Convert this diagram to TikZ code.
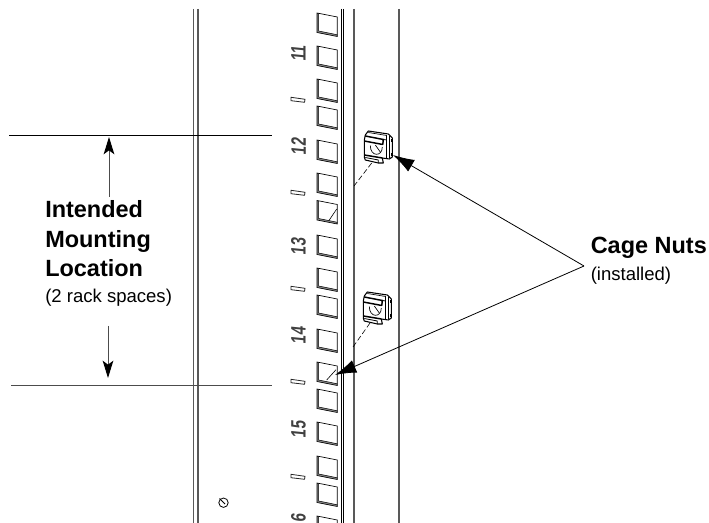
\documentclass[tikz,border=0pt]{standalone}
\usepackage{fontspec}
\setmainfont{Liberation Sans}
\usetikzlibrary{arrows.meta}
\tikzset{
 px/.style={x=0.75pt,y=-0.75pt},
 rail/.style={draw=black!65,line width=0.8pt},
 hline/.style={draw=black,line width=0.6pt},
 leader/.style={draw=black,line width=0.6pt,-{Latex[length=16pt,width=10pt]}},
 dimarrow/.style={draw=black!70,line width=0.7pt,-{Stealth[length=13pt,width=8pt,inset=3pt,color=black]}},
 lbl/.style={font=\fontsize{17.6}{22}\selectfont\bfseries,align=left,inner sep=0pt,anchor=base west},
 sub/.style={font=\fontsize{13.9}{16}\selectfont,inner sep=0pt,anchor=base west},
 num/.style={font=\fontsize{15.6}{18}\selectfont\bfseries,rotate=90,xslant=0.1,xscale=.73,inner sep=0pt,text=black!75},
 thin line/.style={draw=black,line width=0.45pt},
 leaddash/.style={draw=black,line width=0.45pt,dash pattern=on 4pt off 2pt},
}
\newcommand{\hole}[1]{%
 \begin{scope}[shift={(317,#1)}]
  \fill[white] (0,0)--(20.3,4)--(20.3,23.5)--(0,19.5)--cycle;
  \fill[black!45] (0,0)--(1.6,0.3)--(1.6,18)--(20.3,21.8)--(20.3,23.5)--(0,19.5)--cycle;
  \draw[black,line width=0.5pt] (0,0)--(20.3,4)--(20.3,23.5)--(0,19.5)--cycle;
  \draw[black,line width=0.4pt] (1.6,0.3)--(1.6,18)--(20.3,21.8);
 \end{scope}}
\newcommand{\nut}[2]{%
 \begin{scope}[shift={(#1,#2)}]
  \filldraw[fill=white,draw=black,line width=0.8pt,line join=round] (2,5)--(5,1)--(25,4)--(29,8)--(29,27)--(26,29)--(19,28)--(20,33)--(15,33)--(2,30)--(1,27)--(1,10)--cycle;
  \draw[black,line width=0.5pt] (23.5,5.5)--(23.5,28.5);
  \draw[black,line width=0.5pt] (26.5,6)--(26.5,28);
  \draw[black,line width=0.5pt] (7,15.5) .. controls (7,27) and (19,27) .. (19,17);
  \draw[black,line width=0.5pt] (12,15)--(17,22);
  \draw[black,line width=0.5pt] (5,2.5)--(23.5,5.5);
  \draw[black,line width=1.1pt] (2,6)--(20,9.5)--(19.5,14.5);
  \draw[black,line width=1.1pt] (1,11)--(19.5,14.5);
  \draw[black,line width=0.6pt] (20,9.5)--(23.5,10);
  \draw[black,line width=1.1pt] (1,25)--(19,28);
  \draw[black,line width=0.6pt] (2,27.5)--(15,30)--(15,33);
  \fill[black] (27.3,9) rectangle +(1.9,3.5);
  \fill[black] (27.3,23) rectangle +(1.9,3.5);
 \end{scope}}
\begin{document}
\begin{tikzpicture}[px]
\useasboundingbox (0,0) rectangle (709,523);
\clip (0,0) rectangle (709,523);
% rails
\foreach \x in {193.5,198,354,399} \draw[rail] (\x,9)--(\x,523);
\draw[rail,draw=black,line width=0.7pt] (341.2,9)--(341.2,523);
\draw[rail,draw=black,line width=0.7pt] (343.2,9)--(343.2,523);
% holes
\foreach \y in {13,46,79,106,140,173,200.5,235,268,295,329,362,389,422,456,483,516} {\hole{\y}}
% hole dashes
\coordinate (d1a) at (329,220.5); \coordinate (d1b) at (336.7,209);
\draw[thin line] (d1a)--(d1b);
\coordinate (d2a) at (326.7,380); \coordinate (d2b) at (336,369.7);
\draw[thin line] (d2a)--(d2b);
% nuts
\nut{363.3}{130}
\nut{362.3}{291}
\coordinate (n1) at (371.7,163); \coordinate (n1e) at (354,186);
\draw[leaddash] (n1)--(n1e);
\coordinate (n2) at (370,323); \coordinate (n2e) at (353,347);
\draw[leaddash] (n2)--(n2e);
% numbers
\node[num] (n11) at (298.5,53) {11};
\node[num] (n12) at (298.5,146) {12};
\node[num] (n13) at (298.5,246) {13};
\node[num] (n14) at (298.5,335) {14};
\node[num] (n15) at (298.5,429) {15};
\node[num] (n16) at (298.5,518) {6};
\foreach \y in {98,191,287,380,475} \draw[black!85,line width=0.6pt] (291,\y-.7)--(305,\y+1.3)--(304.5,\y+4.3)--(291,\y+2.7)--cycle;
% small mark
\draw[black,line width=0.6pt] (223.5,502.7) circle (4.7);
\draw[black,line width=0.6pt] (219.5,498.5)--(225,504);
% dimension
\coordinate (t1) at (9,135); \coordinate (t2) at (272,135);
\coordinate (b1) at (11,385.7); \coordinate (b2) at (272,385.7);
\draw[hline] (t1)--(t2);
\draw[hline,draw=black!70,line width=0.8pt] (b1)--(b2);
\node[lbl] (loc) at (45,218) {Intended};
\node[lbl] (loc2) at (45,248) {Mounting};
\node[lbl] (loc3) at (45,277) {Location};
\node[sub] (rs) at (45,303) {(2 rack spaces)};
\coordinate (ua) at (109,197); \coordinate (ue) at (109,137);
\coordinate (da) at (108,326); \coordinate (de) at (108,378);
\draw[dimarrow] (ua)--(ue);
\draw[dimarrow] (da)--(de);
% cage nuts
\node[lbl] (cn) at (590.5,254) {Cage Nuts};
\node[sub] (inst) at (590.5,281) {(installed)};
\coordinate (hub) at (584,266);
\coordinate (a1) at (393,155); \coordinate (a2) at (335,375);
\draw[leader] (hub)--(a1);
\draw[leader] (hub)--(a2);
\end{tikzpicture}
\end{document}
